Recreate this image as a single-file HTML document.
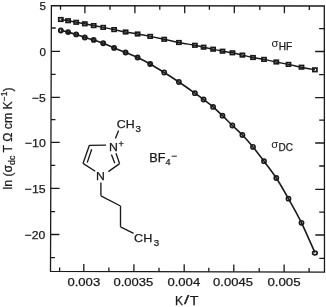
<!DOCTYPE html>
<html><head><meta charset="utf-8"><style>
html,body{margin:0;padding:0;background:#fff;width:326px;height:307px;overflow:hidden;}
svg{display:block;font-family:"Liberation Sans",sans-serif;will-change:transform;}
</style></head><body><svg width="326" height="307" viewBox="0 0 326 307"><path d="M51.4 5.7L324.3 6.0L324.5 272.1L50.5 271.4Z" fill="none" stroke="#1a1a1a" stroke-width="1.3" stroke-linejoin="miter"/><path d="M59.60 271.42V267.42M60.50 5.71V9.71M83.80 271.49V264.09M84.90 5.74V13.14M108.90 271.55V267.55M110.00 5.76V9.76M133.90 271.61V264.21M134.90 5.79V13.19M159.00 271.68V267.68M159.80 5.82V9.82M184.20 271.74V264.34M184.70 5.85V13.25M208.80 271.80V267.80M209.40 5.87V9.87M233.80 271.87V264.47M234.30 5.90V13.30M259.20 271.93V267.93M259.80 5.93V9.93M284.10 272.00V264.60M284.40 5.96V13.36M309.10 272.06V268.06M309.30 5.98V9.98M51.32 28.00H55.72M324.32 28.70H319.12M51.25 51.40H60.05M324.33 51.50H315.13M51.17 74.30H55.57M324.35 74.60H319.15M51.09 97.30H59.89M324.37 97.70H315.17M51.01 119.60H55.41M324.39 120.20H319.19M50.94 142.40H59.74M324.40 143.00H315.20M50.86 165.40H55.26M324.42 166.00H319.22M50.78 188.30H59.58M324.44 189.40H315.24M50.70 211.60H55.10M324.45 212.10H319.25M50.62 234.50H59.42M324.47 235.00H315.27M50.55 257.60H54.95M324.49 258.40H319.29" fill="none" stroke="#1a1a1a" stroke-width="1.3"/><path d="M60.80 19.50 C62.02 19.70 65.53 20.23 68.10 20.70 C70.67 21.17 73.42 21.78 76.20 22.30 C78.98 22.82 81.88 23.25 84.80 23.80 C87.72 24.35 90.63 25.00 93.70 25.60 C96.77 26.20 99.80 26.73 103.20 27.40 C106.60 28.07 110.37 28.83 114.10 29.60 C117.83 30.37 121.68 31.27 125.60 32.00 C129.52 32.73 133.50 33.27 137.60 34.00 C141.70 34.73 145.77 35.52 150.20 36.40 C154.63 37.28 159.42 38.28 164.20 39.30 C168.98 40.32 173.78 41.50 178.90 42.50 C184.02 43.50 190.78 44.52 194.90 45.30 C199.02 46.08 200.57 46.55 203.60 47.20 C206.63 47.85 209.95 48.53 213.10 49.20 C216.25 49.87 219.28 50.60 222.50 51.20 C225.72 51.80 229.08 52.15 232.40 52.80 C235.72 53.45 238.97 54.32 242.40 55.10 C245.83 55.88 249.40 56.78 253.00 57.50 C256.60 58.22 260.12 58.65 264.00 59.40 C267.88 60.15 272.22 61.17 276.30 62.00 C280.38 62.83 284.30 63.53 288.50 64.40 C292.70 65.27 297.10 66.30 301.50 67.20 C305.90 68.10 312.67 69.37 314.90 69.80" fill="none" stroke="#1a1a1a" stroke-width="1.45"/><path d="M60.80 30.50 C62.02 30.77 65.53 31.45 68.10 32.10 C70.67 32.75 73.42 33.50 76.20 34.40 C78.98 35.30 81.88 36.58 84.80 37.50 C87.72 38.42 90.63 38.93 93.70 39.90 C96.77 40.87 99.80 41.97 103.20 43.30 C106.60 44.63 110.37 46.37 114.10 47.90 C117.83 49.43 121.68 50.90 125.60 52.50 C129.52 54.10 133.50 55.58 137.60 57.50 C141.70 59.42 145.77 61.50 150.20 64.00 C154.63 66.50 159.42 69.50 164.20 72.50 C168.98 75.50 173.78 78.55 178.90 82.00 C184.02 85.45 190.78 90.28 194.90 93.20 C199.02 96.12 200.57 97.22 203.60 99.50 C206.63 101.78 209.95 104.20 213.10 106.90 C216.25 109.60 219.28 112.60 222.50 115.70 C225.72 118.80 229.08 122.28 232.40 125.50 C235.72 128.72 238.97 131.43 242.40 135.00 C245.83 138.57 249.40 142.53 253.00 146.90 C256.60 151.27 260.12 156.02 264.00 161.20 C267.88 166.38 272.22 171.75 276.30 178.00 C280.38 184.25 284.30 191.23 288.50 198.70 C292.70 206.17 297.10 213.82 301.50 222.80 C305.90 231.78 312.67 247.63 314.90 252.60" fill="none" stroke="#1a1a1a" stroke-width="1.6"/><rect x="58.75" y="17.75" width="4.1" height="3.5" fill="none" stroke="#1a1a1a" stroke-width="1.7"/><rect x="66.05" y="18.95" width="4.1" height="3.5" fill="none" stroke="#1a1a1a" stroke-width="1.7"/><rect x="74.15" y="20.55" width="4.1" height="3.5" fill="none" stroke="#1a1a1a" stroke-width="1.7"/><rect x="82.75" y="22.05" width="4.1" height="3.5" fill="none" stroke="#1a1a1a" stroke-width="1.7"/><rect x="91.65" y="23.85" width="4.1" height="3.5" fill="none" stroke="#1a1a1a" stroke-width="1.7"/><rect x="101.15" y="25.65" width="4.1" height="3.5" fill="none" stroke="#1a1a1a" stroke-width="1.7"/><rect x="112.05" y="27.85" width="4.1" height="3.5" fill="none" stroke="#1a1a1a" stroke-width="1.7"/><rect x="123.55" y="30.25" width="4.1" height="3.5" fill="none" stroke="#1a1a1a" stroke-width="1.7"/><rect x="135.55" y="32.25" width="4.1" height="3.5" fill="none" stroke="#1a1a1a" stroke-width="1.7"/><rect x="148.15" y="34.65" width="4.1" height="3.5" fill="none" stroke="#1a1a1a" stroke-width="1.7"/><rect x="162.15" y="37.55" width="4.1" height="3.5" fill="none" stroke="#1a1a1a" stroke-width="1.7"/><rect x="176.85" y="40.75" width="4.1" height="3.5" fill="none" stroke="#1a1a1a" stroke-width="1.7"/><rect x="192.85" y="43.55" width="4.1" height="3.5" fill="none" stroke="#1a1a1a" stroke-width="1.7"/><rect x="201.55" y="45.45" width="4.1" height="3.5" fill="none" stroke="#1a1a1a" stroke-width="1.7"/><rect x="211.05" y="47.45" width="4.1" height="3.5" fill="none" stroke="#1a1a1a" stroke-width="1.7"/><rect x="220.45" y="49.45" width="4.1" height="3.5" fill="none" stroke="#1a1a1a" stroke-width="1.7"/><rect x="230.35" y="51.05" width="4.1" height="3.5" fill="none" stroke="#1a1a1a" stroke-width="1.7"/><rect x="240.35" y="53.35" width="4.1" height="3.5" fill="none" stroke="#1a1a1a" stroke-width="1.7"/><rect x="250.95" y="55.75" width="4.1" height="3.5" fill="none" stroke="#1a1a1a" stroke-width="1.7"/><rect x="261.95" y="57.65" width="4.1" height="3.5" fill="none" stroke="#1a1a1a" stroke-width="1.7"/><rect x="274.25" y="60.25" width="4.1" height="3.5" fill="none" stroke="#1a1a1a" stroke-width="1.7"/><rect x="286.45" y="62.65" width="4.1" height="3.5" fill="none" stroke="#1a1a1a" stroke-width="1.7"/><rect x="299.45" y="65.45" width="4.1" height="3.5" fill="none" stroke="#1a1a1a" stroke-width="1.7"/><rect x="312.85" y="68.05" width="4.1" height="3.5" fill="none" stroke="#1a1a1a" stroke-width="1.7"/><circle cx="60.80" cy="30.50" r="1.95" fill="none" stroke="#1a1a1a" stroke-width="2.0"/><circle cx="68.10" cy="32.10" r="1.95" fill="none" stroke="#1a1a1a" stroke-width="2.0"/><circle cx="76.20" cy="34.40" r="1.95" fill="none" stroke="#1a1a1a" stroke-width="2.0"/><circle cx="84.80" cy="37.50" r="1.95" fill="none" stroke="#1a1a1a" stroke-width="2.0"/><circle cx="93.70" cy="39.90" r="1.95" fill="none" stroke="#1a1a1a" stroke-width="2.0"/><circle cx="103.20" cy="43.30" r="1.95" fill="none" stroke="#1a1a1a" stroke-width="2.0"/><circle cx="114.10" cy="47.90" r="1.95" fill="none" stroke="#1a1a1a" stroke-width="2.0"/><circle cx="125.60" cy="52.50" r="1.95" fill="none" stroke="#1a1a1a" stroke-width="2.0"/><circle cx="137.60" cy="57.50" r="1.95" fill="none" stroke="#1a1a1a" stroke-width="2.0"/><circle cx="150.20" cy="64.00" r="1.95" fill="none" stroke="#1a1a1a" stroke-width="2.0"/><circle cx="164.20" cy="72.50" r="2.1" fill="none" stroke="#1a1a1a" stroke-width="1.65"/><circle cx="178.90" cy="82.00" r="2.1" fill="none" stroke="#1a1a1a" stroke-width="1.65"/><circle cx="194.90" cy="93.20" r="2.1" fill="none" stroke="#1a1a1a" stroke-width="1.65"/><circle cx="203.60" cy="99.50" r="2.1" fill="none" stroke="#1a1a1a" stroke-width="1.65"/><circle cx="213.10" cy="106.90" r="2.1" fill="none" stroke="#1a1a1a" stroke-width="1.65"/><circle cx="222.50" cy="115.70" r="2.1" fill="none" stroke="#1a1a1a" stroke-width="1.65"/><circle cx="232.40" cy="125.50" r="2.1" fill="none" stroke="#1a1a1a" stroke-width="1.65"/><circle cx="242.40" cy="135.00" r="2.1" fill="none" stroke="#1a1a1a" stroke-width="1.65"/><circle cx="253.00" cy="146.90" r="2.1" fill="none" stroke="#1a1a1a" stroke-width="1.65"/><circle cx="264.00" cy="161.20" r="2.1" fill="none" stroke="#1a1a1a" stroke-width="1.65"/><circle cx="276.30" cy="178.00" r="2.1" fill="none" stroke="#1a1a1a" stroke-width="1.65"/><circle cx="288.50" cy="198.70" r="2.1" fill="none" stroke="#1a1a1a" stroke-width="1.65"/><circle cx="301.50" cy="222.80" r="2.1" fill="none" stroke="#1a1a1a" stroke-width="1.65"/><ellipse cx="314.90" cy="252.90" rx="2.3" ry="1.9" fill="none" stroke="#1a1a1a" stroke-width="1.7"/><text x="67.4" y="285.8" font-size="11.2" textLength="32.8" lengthAdjust="spacingAndGlyphs" font-family="Liberation Sans, sans-serif" fill="#1a1a1a" stroke="#1a1a1a" stroke-width="0.25">0.003</text><text x="113.5" y="285.8" font-size="11.2" textLength="39.8" lengthAdjust="spacingAndGlyphs" font-family="Liberation Sans, sans-serif" fill="#1a1a1a" stroke="#1a1a1a" stroke-width="0.25">0.0035</text><text x="167.39999999999998" y="285.8" font-size="11.2" textLength="32.8" lengthAdjust="spacingAndGlyphs" font-family="Liberation Sans, sans-serif" fill="#1a1a1a" stroke="#1a1a1a" stroke-width="0.25">0.004</text><text x="213.1" y="285.8" font-size="11.2" textLength="39.8" lengthAdjust="spacingAndGlyphs" font-family="Liberation Sans, sans-serif" fill="#1a1a1a" stroke="#1a1a1a" stroke-width="0.25">0.0045</text><text x="267.4" y="285.8" font-size="11.2" textLength="33.2" lengthAdjust="spacingAndGlyphs" font-family="Liberation Sans, sans-serif" fill="#1a1a1a" stroke="#1a1a1a" stroke-width="0.25">0.005</text><text x="39.6" y="9.8" font-size="11.6" font-family="Liberation Sans, sans-serif" fill="#1a1a1a" stroke="#1a1a1a" stroke-width="0.25">5</text><text x="39.4" y="55.6" font-size="11.6" font-family="Liberation Sans, sans-serif" fill="#1a1a1a" stroke="#1a1a1a" stroke-width="0.25">0</text><text x="32.0" y="101.6" font-size="11.6" textLength="13.8" lengthAdjust="spacingAndGlyphs" font-family="Liberation Sans, sans-serif" fill="#1a1a1a" stroke="#1a1a1a" stroke-width="0.25">−5</text><text x="24.9" y="147.2" font-size="11.6" textLength="20.9" lengthAdjust="spacingAndGlyphs" font-family="Liberation Sans, sans-serif" fill="#1a1a1a" stroke="#1a1a1a" stroke-width="0.25">−10</text><text x="24.7" y="193.0" font-size="11.6" textLength="20.9" lengthAdjust="spacingAndGlyphs" font-family="Liberation Sans, sans-serif" fill="#1a1a1a" stroke="#1a1a1a" stroke-width="0.25">−15</text><text x="24.7" y="238.9" font-size="11.6" textLength="20.7" lengthAdjust="spacingAndGlyphs" font-family="Liberation Sans, sans-serif" fill="#1a1a1a" stroke="#1a1a1a" stroke-width="0.25">−20</text><text x="175.0" y="304.5" font-size="12" font-family="Liberation Sans, sans-serif" fill="#1a1a1a" stroke="#1a1a1a" stroke-width="0.25">K</text><text x="183.9" y="304.4" font-size="12" textLength="5.2" lengthAdjust="spacingAndGlyphs" font-family="Liberation Sans, sans-serif" fill="#1a1a1a" stroke="#1a1a1a" stroke-width="0.25">/</text><text x="189.8" y="304.5" font-size="12" textLength="8.7" lengthAdjust="spacingAndGlyphs" font-family="Liberation Sans, sans-serif" fill="#1a1a1a" stroke="#1a1a1a" stroke-width="0.25">T</text><text x="271.5" y="46.6" font-size="11.3" font-family="Liberation Sans, sans-serif" fill="#1a1a1a" stroke="#1a1a1a" stroke-width="0">σ</text><text x="278.8" y="50.3" font-size="10.1" font-family="Liberation Sans, sans-serif" fill="#1a1a1a" stroke="#1a1a1a" stroke-width="0.25">HF</text><text x="271.3" y="148.1" font-size="11.3" font-family="Liberation Sans, sans-serif" fill="#1a1a1a" stroke="#1a1a1a" stroke-width="0">σ</text><text x="278.6" y="151.2" font-size="10.0" font-family="Liberation Sans, sans-serif" fill="#1a1a1a" stroke="#1a1a1a" stroke-width="0.25">DC</text><text x="149.2" y="162.2" font-size="12" textLength="16.2" lengthAdjust="spacingAndGlyphs" font-family="Liberation Sans, sans-serif" fill="#1a1a1a" stroke="#1a1a1a" stroke-width="0.25">BF</text><text x="165.6" y="165.2" font-size="8.6" textLength="5.0" lengthAdjust="spacingAndGlyphs" font-family="Liberation Sans, sans-serif" fill="#1a1a1a" stroke="#1a1a1a" stroke-width="0.25">4</text><text x="171.2" y="159.0" font-size="9" textLength="5.8" lengthAdjust="spacingAndGlyphs" font-family="Liberation Sans, sans-serif" fill="#1a1a1a" stroke="#1a1a1a" stroke-width="0.25">−</text><g transform="translate(12.2 189.6) rotate(-90)"><text x="0" y="0" font-size="12" font-family="Liberation Sans, sans-serif" fill="#1a1a1a" stroke="#1a1a1a" stroke-width="0.25" textLength="102.3" lengthAdjust="spacingAndGlyphs">ln (σ<tspan font-size="8.6" dy="2.6">dc</tspan><tspan dy="-2.6"> T Ω cm K</tspan><tspan font-size="8.4" dy="-5.3">−1</tspan><tspan dy="5.3">)</tspan></text></g><text x="109.0" y="150.5" font-size="11.8" textLength="8.9" lengthAdjust="spacingAndGlyphs" font-family="Liberation Sans, sans-serif" fill="#1a1a1a" stroke="#1a1a1a" stroke-width="0.25">N</text><text x="118.4" y="147.0" font-size="8.6" textLength="5.4" lengthAdjust="spacingAndGlyphs" font-family="Liberation Sans, sans-serif" fill="#1a1a1a" stroke="#1a1a1a" stroke-width="0.25">+</text><text x="96.0" y="179.9" font-size="11.8" textLength="8.9" lengthAdjust="spacingAndGlyphs" font-family="Liberation Sans, sans-serif" fill="#1a1a1a" stroke="#1a1a1a" stroke-width="0.25">N</text><text x="116.7" y="128.1" font-size="11.8" textLength="17.9" lengthAdjust="spacingAndGlyphs" font-family="Liberation Sans, sans-serif" fill="#1a1a1a" stroke="#1a1a1a" stroke-width="0.25">CH</text><text x="135.6" y="131.5" font-size="8.6" textLength="5.4" lengthAdjust="spacingAndGlyphs" font-family="Liberation Sans, sans-serif" fill="#1a1a1a" stroke="#1a1a1a" stroke-width="0.25">3</text><text x="134.1" y="242.4" font-size="11.8" textLength="18.2" lengthAdjust="spacingAndGlyphs" font-family="Liberation Sans, sans-serif" fill="#1a1a1a" stroke="#1a1a1a" stroke-width="0.25">CH</text><text x="153.7" y="245.7" font-size="8.6" textLength="5.4" lengthAdjust="spacingAndGlyphs" font-family="Liberation Sans, sans-serif" fill="#1a1a1a" stroke="#1a1a1a" stroke-width="0.25">3</text><path d="M89.4 145.3L106.0 145.2M89.4 145.3L83.0 163.4M91.7 149.3L87.2 162.6M83.0 163.4L95.2 171.3M116.0 153.2L119.6 163.6M111.4 154.4L114.8 163.2M119.6 163.6L108.4 171.6M115.4 138.4L118.6 130.6M100.9 182.6L100.9 195.8M100.9 195.8L120.5 206.0M120.5 206.0L120.5 226.8M120.5 226.8L133.6 233.3" fill="none" stroke="#1a1a1a" stroke-width="1.35" stroke-linecap="butt" stroke-linejoin="miter"/></svg></body></html>
